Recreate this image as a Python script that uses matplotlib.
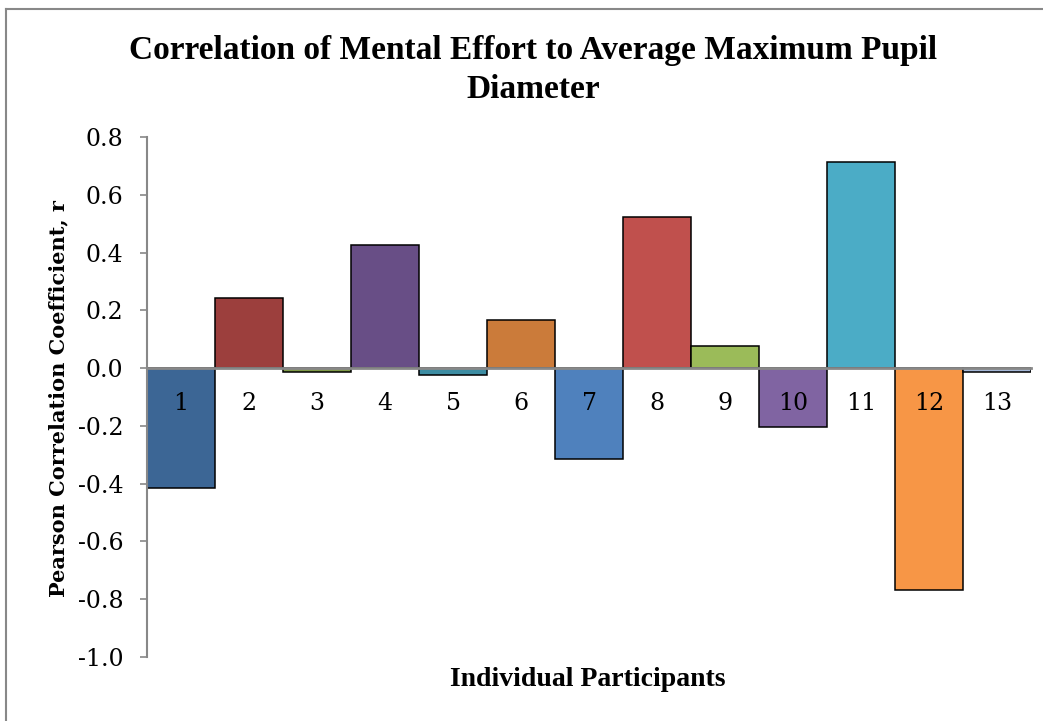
import matplotlib.pyplot as plt
from matplotlib.lines import Line2D

participants = ["1", "2", "3", "4", "5", "6", "7", "8", "9", "10", "11", "12", "13"]
correlations = [-0.416, 0.242, -0.013, 0.426, -0.024, 0.166, -0.315,
                0.523, 0.076, -0.204, 0.713, -0.769, -0.012]
bar_colors = ["#3C6695", "#9C3F3D", "#7F9A48", "#684E86", "#3D8DA3", "#CB7B3A",
              "#4F81BD", "#C0504D", "#9BBB59", "#8064A2", "#4BACC6", "#F79646",
              "#A5B8D8"]

fig = plt.figure(figsize=(10.43, 7.21), dpi=100)
ax = fig.add_axes([147 / 1043, 1 - 657 / 721, 884 / 1043, 520 / 721])

x = list(range(len(participants)))
ax.bar(x, correlations, width=1.0, color=bar_colors, edgecolor="black", linewidth=1.1, zorder=1)

# put the category axis on the zero line first (this resets tick labels)
for side in ["top", "right"]:
    ax.spines[side].set_visible(False)
ax.spines["bottom"].set_position(("data", 0))
ax.spines["bottom"].set_color("#888888")
ax.spines["bottom"].set_linewidth(2)
ax.spines["bottom"].set_zorder(3)
ax.spines["left"].set_color("#888888")
ax.spines["left"].set_linewidth(1.5)
ax.xaxis.set_zorder(4)

ax.set_xlim(-0.5, len(participants) - 0.5)
ax.set_ylim(-1.0, 0.8)
ax.set_yticks([0.8, 0.6, 0.4, 0.2, 0.0, -0.2, -0.4, -0.6, -0.8, -1.0])
ax.set_yticklabels(["0.8", "0.6", "0.4", "0.2", "0.0", "-0.2", "-0.4", "-0.6", "-0.8", "-1.0"],
                   family="DejaVu Serif", fontsize=17)
ax.set_xticks(x)
ax.set_xticklabels(participants, family="DejaVu Serif", fontsize=17)
ax.tick_params(axis="y", direction="out", length=5, width=1.2, color="#888888", pad=12)
ax.tick_params(axis="x", length=0, pad=17)

fig.text(0.511, 1 - 70 / 721, "Correlation of Mental Effort to Average Maximum Pupil\nDiameter",
         ha="center", va="center", family="Liberation Serif", fontweight="bold",
         fontsize=24, linespacing=1.32)
fig.text(58 / 1043, 1 - 399 / 721, "Pearson Correlation Coefficient, r", rotation=90,
         ha="center", va="center", family="DejaVu Serif", fontweight="bold", fontsize=15)
fig.text(588 / 1043, 1 - 680 / 721, "Individual Participants", ha="center", va="center",
         family="Liberation Serif", fontweight="bold", fontsize=20)

# chart area border
fig.add_artist(Line2D([6 / 1043, 6 / 1043], [0, 1 - 9 / 721], color="#888888", linewidth=1.5))
fig.add_artist(Line2D([6 / 1043, 1], [1 - 9 / 721, 1 - 9 / 721], color="#888888", linewidth=1.5))

fig.savefig("out.png", dpi=100)
